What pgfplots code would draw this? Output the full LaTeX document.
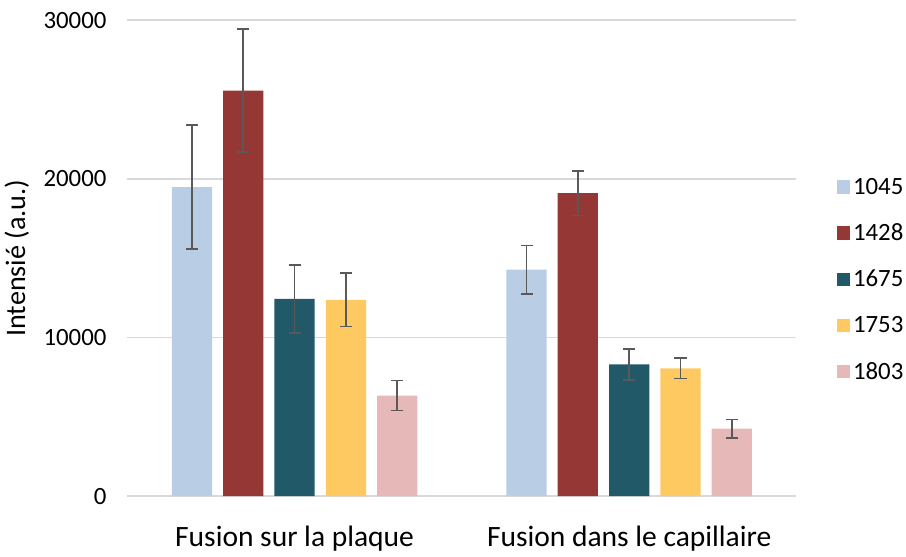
\documentclass[border=0pt]{standalone}
\usepackage{pgfplots}
\pgfplotsset{compat=1.18}
\usepackage{fontspec}
\setmainfont{Carlito}

\definecolor{cA}{HTML}{B9CDE5}
\definecolor{cB}{HTML}{953735}
\definecolor{cC}{HTML}{215968}
\definecolor{cD}{HTML}{FFC961}
\definecolor{cE}{HTML}{E6B9B8}
\definecolor{gridc}{HTML}{D9D9D9}
\definecolor{errc}{HTML}{595959}

\begin{document}
\begin{tikzpicture}[x=1pt,y=1pt]
\begin{axis}[
  width=498.75pt, height=354.75pt, scale only axis,
  ybar, bar width=30pt,
  /pgf/bar shift={(0.5*(\numplotsofactualtype-1)-\plotnumofactualtype)*-38.25pt},
  xmin=-0.5, xmax=1.5, ymin=0, ymax=30000,
  enlargelimits=false,
  xtick={0,1}, xticklabels={Fusion sur la plaque, Fusion dans le capillaire},
  ytick={0,10000,20000,30000},
  scaled y ticks=false,
  /pgf/number format/set thousands separator={},
  /pgf/number format/assume math mode=true,
  axis line style={draw=none},
  major tick length=0pt,
  ymajorgrids, grid style={gridc, line width=1.2pt},
  tick label style={text=black},
  yticklabel style={font=\fontsize{18.5}{22}\selectfont, xshift=-12pt},
  xticklabel style={font=\fontsize{22}{26}\selectfont, yshift=-19pt},
  ylabel={Intensié (a.u.)},
  ylabel shift=4pt,
  ylabel style={font=\fontsize{21}{25}\selectfont},
  legend style={at={(1.06,0.455)}, anchor=west, draw=none, inner xsep=0pt,
    font=\fontsize{18.5}{22}\selectfont, row sep=16.5pt,
    /tikz/every even column/.append style={column sep=7pt}},
  legend cell align=left,
  legend image code/.code={\fill[#1] (0pt,-5pt) rectangle (10pt,5pt);},
  error bars/y dir=both, error bars/y explicit,
  error bars/error bar style={errc, line width=1.3pt},
  error bars/error mark options={rotate=90, errc, line width=1.3pt, mark size=4.5pt},
]
\addplot[fill=cA, draw=none] coordinates {(0,19470) +- (0,3900) (1,14270) +- (0,1520)};
\addplot[fill=cB, draw=none] coordinates {(0,25550) +- (0,3870) (1,19090) +- (0,1400)};
\addplot[fill=cC, draw=none] coordinates {(0,12430) +- (0,2130) (1,8310) +- (0,980)};
\addplot[fill=cD, draw=none] coordinates {(0,12370) +- (0,1680) (1,8050) +- (0,640)};
\addplot[fill=cE, draw=none] coordinates {(0,6340) +- (0,950) (1,4250) +- (0,570)};
\legend{1045,1428,1675,1753,1803}
\end{axis}
\path ([yshift=15pt]current axis.north);
\end{tikzpicture}
\end{document}
